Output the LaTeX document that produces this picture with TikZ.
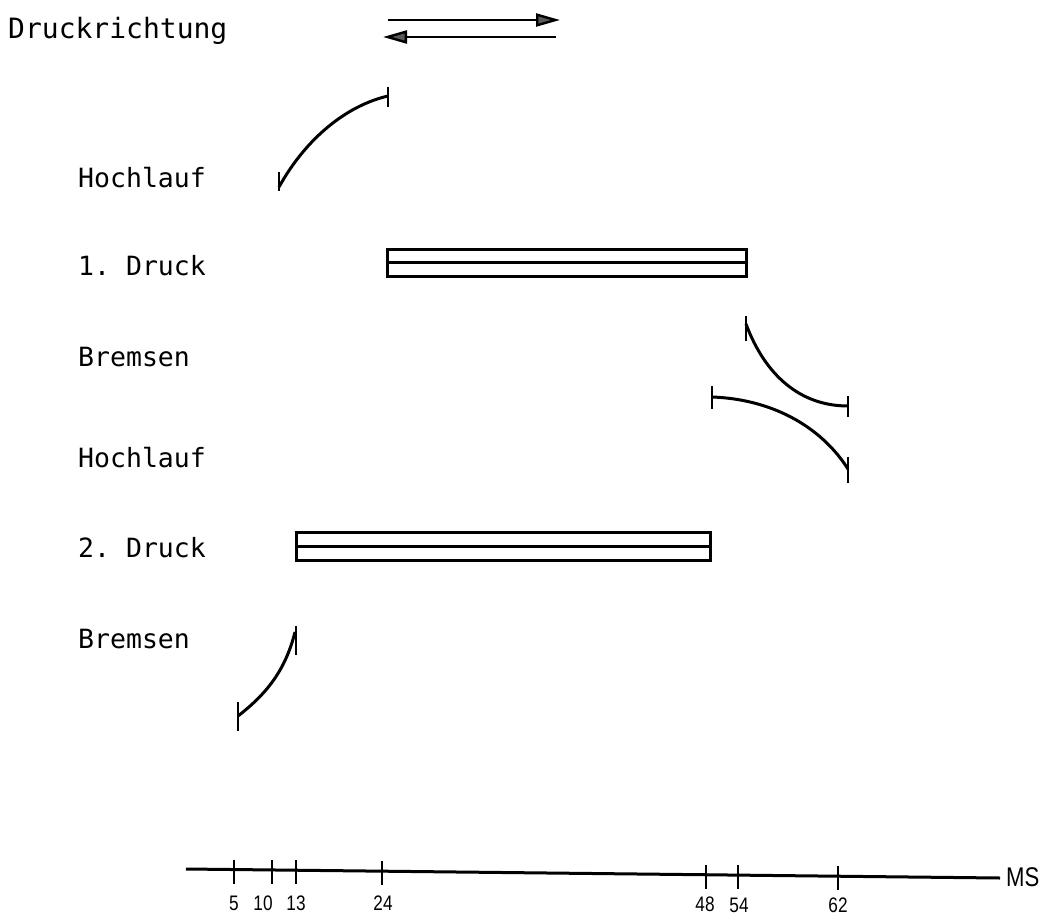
\documentclass[tikz,border=0pt]{standalone}
\usepackage{fontspec}
\setmonofont{DejaVu Sans Mono}
\setsansfont[FakeStretch=0.82]{Liberation Sans}
\usetikzlibrary{arrows.meta}
\begin{document}
\begin{tikzpicture}[x=1pt,y=-1pt,
  lbl/.style={anchor=base west,inner sep=0pt,font=\ttfamily\fontsize{26.5}{30}\selectfont},
  curve/.style={line width=3pt},
  tick/.style={line width=2.8pt},
  bar/.style={line width=3pt},
  num/.style={anchor=base,inner sep=0pt,font=\sffamily\fontsize{21}{24}\selectfont},
  dirarrow/.style={line width=2.4pt,-{Triangle[length=24pt,width=13pt,fill=black!65]}}]
\useasboundingbox (0,0) rectangle (1055,919);
% title and direction arrows
\node[lbl,font=\ttfamily\fontsize{28}{32}\selectfont] (title) at (8,38) {Druckrichtung};
\coordinate (a1s) at (388,20); \coordinate (a1e) at (560,20);
\coordinate (a2s) at (556,37); \coordinate (a2e) at (383,37);
\draw[dirarrow] (a1s) -- (a1e);
\draw[dirarrow] (a2s) -- (a2e);
% labels
\node[lbl] (hl1) at (78,187) {Hochlauf};
\node[lbl] (d1) at (78,275) {1. Druck};
\node[lbl] (br1) at (78,366) {Bremsen};
\node[lbl] (hl2) at (78,467) {Hochlauf};
\node[lbl] (d2) at (78,557) {2. Druck};
\node[lbl] (br2) at (78,648) {Bremsen};
% Hochlauf 1
\coordinate (h1a) at (279,187); \coordinate (h1b) at (388,96);
\draw[curve] (h1a) .. controls (305,140) and (345,106) .. (h1b);
\draw[tick] (279,172) -- (279,191);
\draw[tick] (388,87) -- (388,107);
% 1. Druck bar
\draw[bar] (387,249) rectangle (746,276);
\draw[bar] (387,262.5) -- (746,262.5);
% Bremsen 1
\coordinate (b1a) at (746,324); \coordinate (b1b) at (848,406);
\draw[curve] (b1a) .. controls (765,375) and (800,406) .. (b1b);
\draw[tick] (746,316) -- (746,341);
\draw[tick] (848,396) -- (848,417);
% Hochlauf 2
\coordinate (h2a) at (712,397); \coordinate (h2b) at (848,469);
\draw[curve] (h2a) .. controls (770,399) and (820,425) .. (h2b);
\draw[tick] (712,386) -- (712,409);
\draw[tick] (848,457) -- (848,483);
% 2. Druck bar
\draw[bar] (296,532) rectangle (710,560);
\draw[bar] (296,546) -- (710,546);
% Bremsen 2
\coordinate (b2a) at (238,716); \coordinate (b2b) at (295,632);
\draw[curve] (b2a) .. controls (265,695) and (285,672) .. (b2b);
\draw[tick] (238,702) -- (238,731);
\draw[tick] (296,626) -- (296,655);
% axis
\coordinate (ax0) at (186,869); \coordinate (ax1) at (1000,878);
\draw[line width=3pt] (ax0) -- (ax1);
\node[anchor=west,inner sep=0pt,font=\sffamily\fontsize{27}{30}\selectfont] (ms) at (1006,877) {MS};
\foreach \x/\t/\lx in {234/5/234, 272/10/263, 296/13/296, 382/24/383, 706/48/705, 738/54/739, 838/62/838}{
  \draw[line width=2.2pt] (\x,{859+(\x-186)*9/814}) -- (\x,{883+(\x-186)*9/814});
  \node[num] at (\lx,{910+(\x-186)*3/814}) {\t};
}
\end{tikzpicture}
\end{document}
